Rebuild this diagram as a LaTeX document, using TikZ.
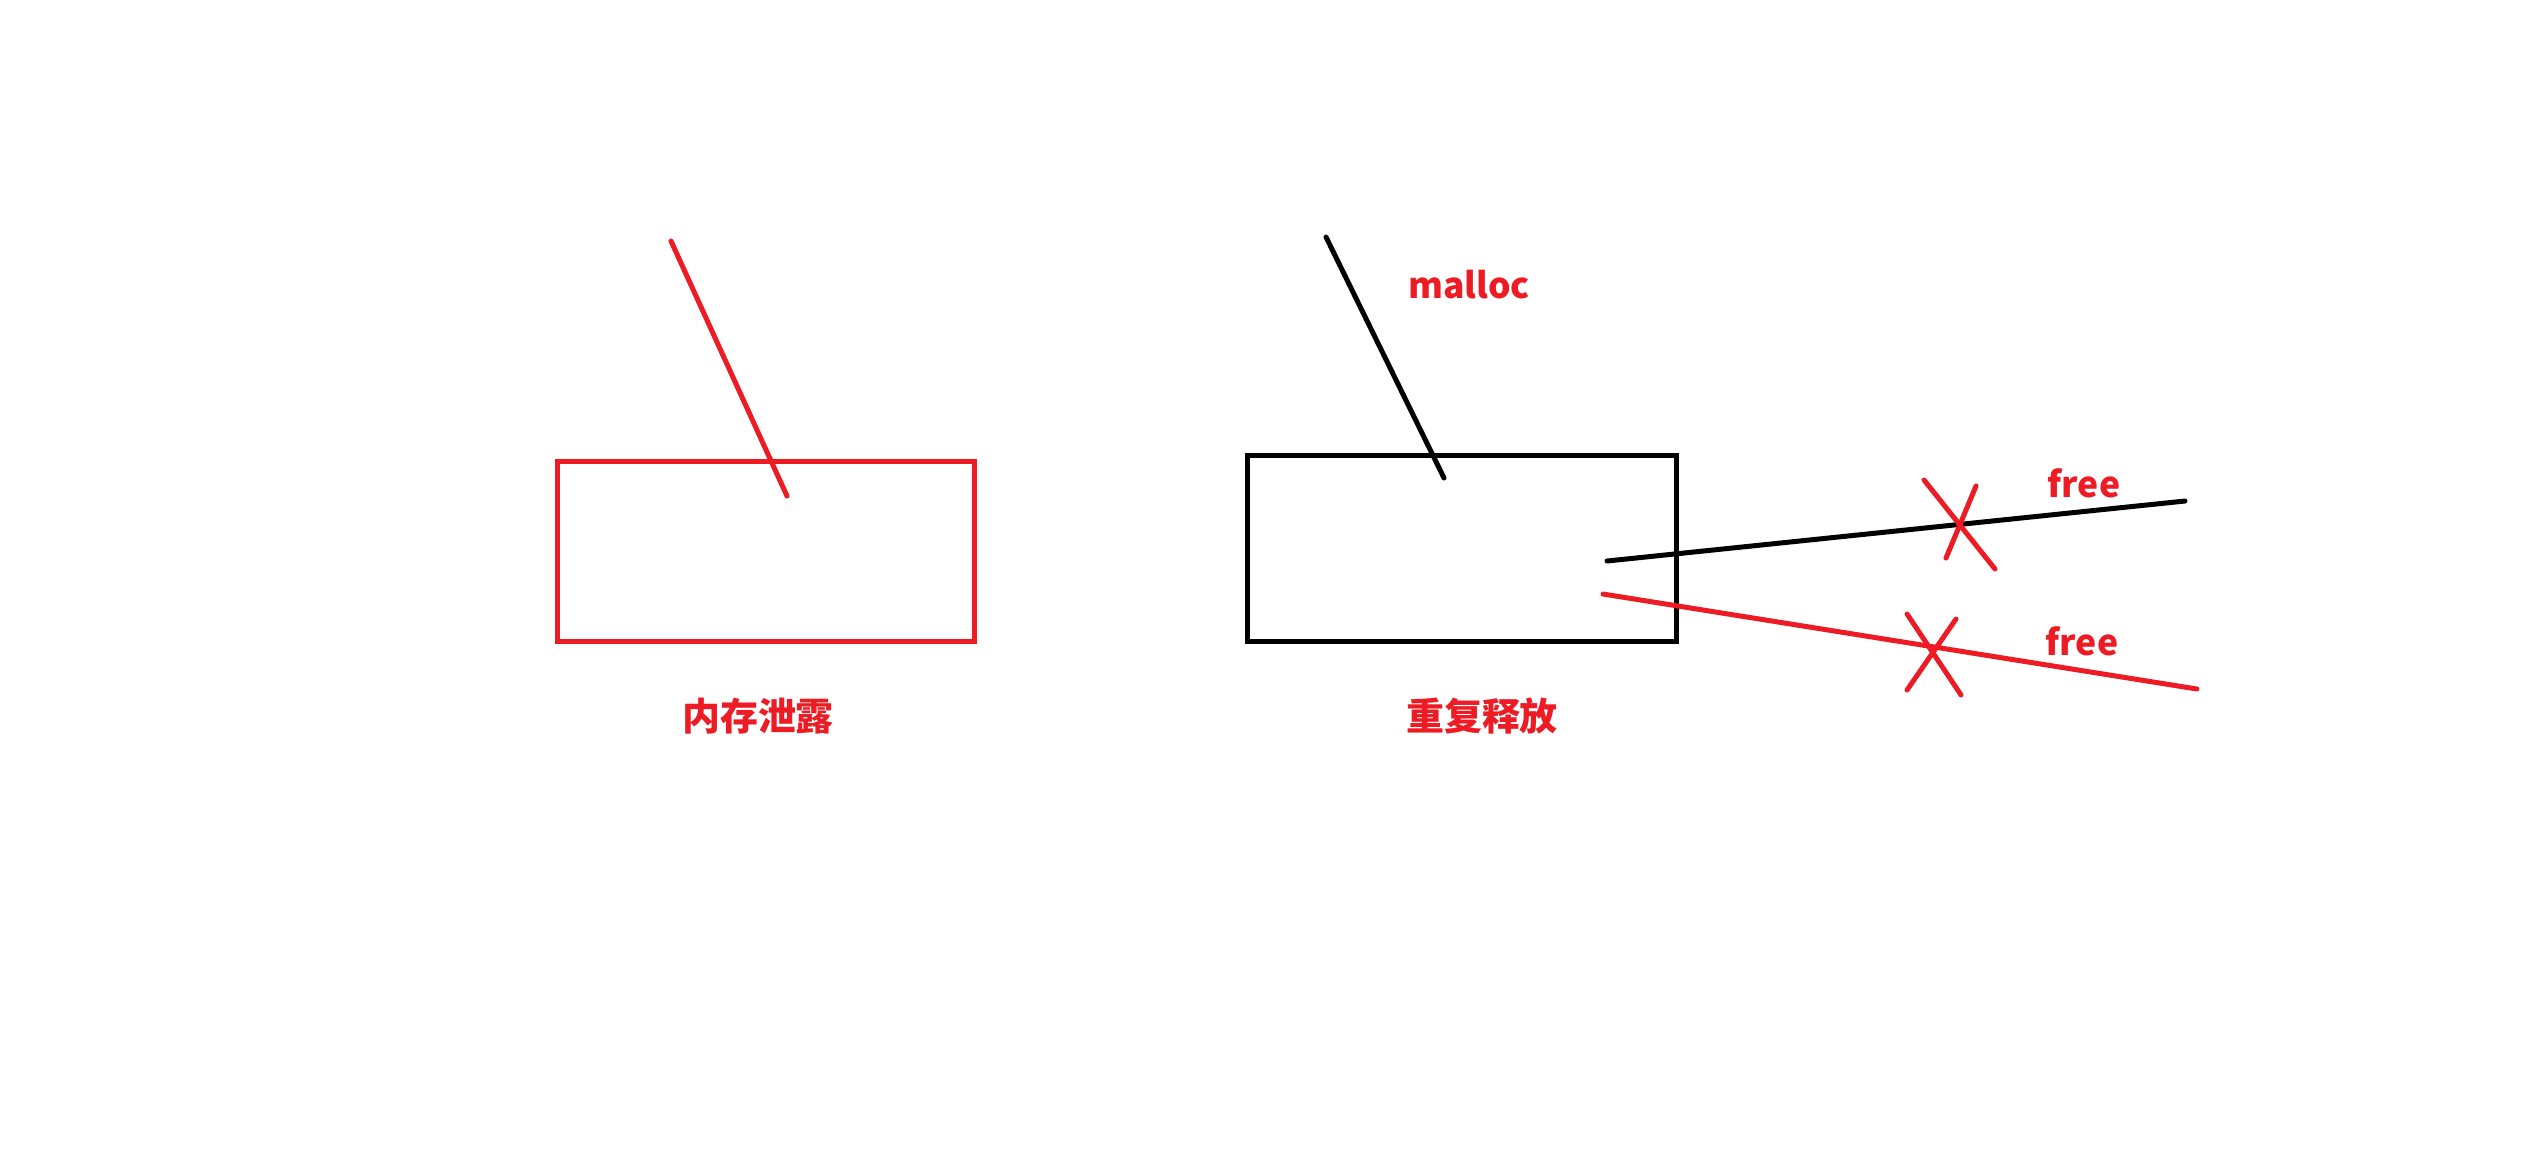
\documentclass[tikz,border=0pt]{standalone}
\usepackage{fontspec}
\newfontfamily\cjk{Noto Sans CJK SC}
\usetikzlibrary{positioning}
\definecolor{paintred}{RGB}{237,28,36}
\begin{document}
\begin{tikzpicture}[x=0.01cm,y=-0.01cm,
  box/.style={draw,line width=1.42pt,inner sep=0pt,outer sep=0pt},
  ln/.style={line width=1.42pt,line cap=round},
  lbl/.style={text=paintred,inner sep=0pt,font=\cjk\bfseries\fontsize{10.8}{13}\selectfont},
  word/.style={lbl,anchor=base,font=\cjk\bfseries\fontsize{10.1}{12}\selectfont}]
  \useasboundingbox (0,0) rectangle (2536,1153);
  % left: leak
  \node[box,draw=paintred,minimum width=4.175cm,minimum height=1.79cm](leak)at(766,551.5){};
  \node[lbl](leaklbl)at(758,716){内存泄露};
  \coordinate(lp0)at(671,241);\coordinate(lp1)at(787,496);
  \draw[ln,paintred](lp0)--(lp1);
  % right: double free
  \node[box,minimum width=4.28cm,minimum height=1.85cm](dbl)at(1462,548.5){};
  \node[lbl](dbllbl)at(1482,716){重复释放};
  \node[word](malloc)at(1469,298){malloc};
  \coordinate(mp0)at(1326,237);\coordinate(mp1)at(1444,478);
  \draw[ln](mp0)--(mp1);
  \coordinate(f1a)at(1607,561);\coordinate(f1b)at(2185,501);
  \coordinate(f2a)at(1603,594);\coordinate(f2b)at(2197,689);
  \draw[ln](f1a)--(f1b);\draw[ln,paintred](f2a)--(f2b);
  \node[word](free1)at(2084,497){free};\node[word](free2)at(2082,655){free};
  % crosses
  \coordinate(x1a)at(1924,480);\coordinate(x1b)at(1995,569);
  \coordinate(x1c)at(1976,486);\coordinate(x1d)at(1946,558);
  \coordinate(x2a)at(1907,614);\coordinate(x2b)at(1961,695);
  \coordinate(x2c)at(1956,619);\coordinate(x2d)at(1907,690);
  \draw[ln,paintred](x1a)--(x1b);\draw[ln,paintred](x1c)--(x1d);
  \draw[ln,paintred](x2a)--(x2b);\draw[ln,paintred](x2c)--(x2d);
\end{tikzpicture}
\end{document}
